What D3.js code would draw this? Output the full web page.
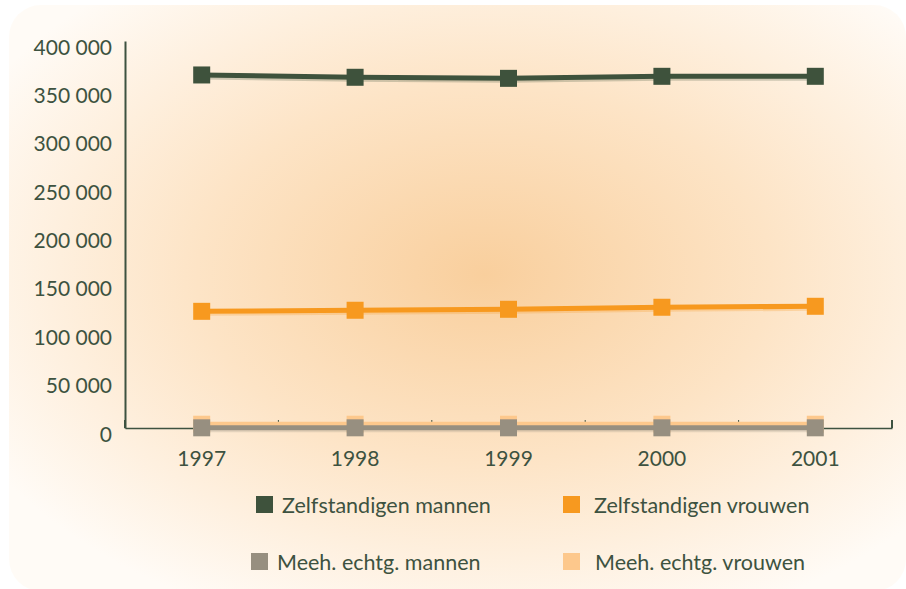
<!DOCTYPE html>
<html>
<head>
<meta charset="utf-8">
<script src="https://cdn.jsdelivr.net/npm/d3@7"></script>
<style>
  body { margin: 0; background: #ffffff; }
  svg text { font-family: Lato, "Open Sans", sans-serif; fill: #3d5240; }
</style>
</head>
<body>
<div id="chart"></div>
<script>
// values
var years = ["1997", "1998", "1999", "2000", "2001"];
var zelfMannen = [364900, 362500, 361400, 363500, 363500];
var zelfVrouwen = [120600, 121700, 122700, 124800, 125800];
var meehMannen = [200, 200, 200, 200, 200];
var meehVrouwen = [3900, 3900, 3900, 3900, 3900];
var yTicks = [0, 50000, 100000, 150000, 200000, 250000, 300000, 350000, 400000];
var seriesNames = ["Zelfstandigen mannen", "Zelfstandigen vrouwen", "Meeh. echtg. mannen", "Meeh. echtg. vrouwen"];
var seriesColors = ["#3e523c", "#f7991f", "#978f80", "#fdc88c"];

var width = 906, height = 589;

var series = [
  {name: seriesNames[0], color: seriesColors[0], values: zelfMannen},
  {name: seriesNames[1], color: seriesColors[1], values: zelfVrouwen},
  {name: seriesNames[2], color: seriesColors[2], values: meehMannen},
  {name: seriesNames[3], color: seriesColors[3], values: meehVrouwen}
];

var svg = d3.select("#chart").append("svg")
    .attr("width", width)
    .attr("height", height);

//Background glow
var grad = svg.append("defs").append("radialGradient")
    .attr("id", "glow")
    .attr("cx", "53%").attr("cy", "46%").attr("r", "64%");
grad.append("stop").attr("offset", "0%").attr("stop-color", "#f9cf9d");
grad.append("stop").attr("offset", "50%").attr("stop-color", "#fde4c6");
grad.append("stop").attr("offset", "100%").attr("stop-color", "#fffbf6");

svg.append("rect")
    .attr("x", 9).attr("y", 5)
    .attr("width", 897).attr("height", 586)
    .attr("rx", 32)
    .attr("fill", "url(#glow)");

//Scales
var x = d3.scaleBand().domain(years).range([125, 892]);
var y = d3.scaleLinear().domain([0, 400000]).range([428, 41]);

var locale = d3.formatLocale({decimal: ",", thousands: " ", grouping: [3], currency: ["", ""]});
var fmt = locale.format(",");

//Y axis
var yAxis = d3.axisLeft(y).tickValues(yTicks).tickFormat(fmt).tickSize(0).tickSizeOuter(0).tickPadding(13);
var gy = svg.append("g").attr("transform", "translate(125,0)").call(yAxis);
gy.select(".domain").attr("stroke", "#3d5240").attr("stroke-width", 2);
gy.selectAll("text")
    .attr("font-size", 21)
    .attr("dy", "0.62em");

//X axis
var xAxis = d3.axisBottom(x).tickSize(0).tickSizeOuter(0).tickPadding(22);
var gx = svg.append("g").attr("transform", "translate(0,428)").call(xAxis);
gx.select(".domain").attr("stroke", "#3d5240").attr("stroke-width", 1.5);
gx.selectAll("text").attr("font-size", 21).attr("dy", "0.75em");

//small ticks on band edges
var edges = years.map(function(d) { return x(d); }).concat([x.range()[1]]);
svg.append("g").selectAll("line")
    .data(edges)
    .enter().append("line")
    .attr("x1", function(d) { return d; })
    .attr("x2", function(d) { return d; })
    .attr("y1", 428).attr("y2", 420)
    .attr("stroke", "#3d5240")
    .attr("stroke-width", function(d, i) { return (i == 0 || i == edges.length - 1) ? 2 : 1; });

//Lines and markers
var line = d3.line()
    .x(function(d, i) { return x(years[i]) + x.bandwidth() / 2; })
    .y(function(d) { return y(d); });

var drawOrder = [series[0], series[1], series[3], series[2]];

var groups = svg.append("g").selectAll("g")
    .data(drawOrder)
    .enter().append("g");

groups.append("path")
    .attr("d", function(d) { return line(d.values); })
    .attr("transform", "translate(0,2)")
    .attr("fill", "none")
    .attr("stroke", function(d) { return d.color; })
    .attr("stroke-opacity", 0.25)
    .attr("stroke-width", 5);

groups.append("path")
    .attr("d", function(d) { return line(d.values); })
    .attr("fill", "none")
    .attr("stroke", function(d) { return d.color; })
    .attr("stroke-width", 5);

groups.selectAll("rect")
    .data(function(d) { return d.values.map(function(v, i) { return {v: v, i: i, color: d.color}; }); })
    .enter().append("rect")
    .attr("x", function(d) { return x(years[d.i]) + x.bandwidth() / 2 - 8.5; })
    .attr("y", function(d) { return y(d.v) - 8.5; })
    .attr("width", 17).attr("height", 17)
    .attr("fill", function(d) { return d.color; });

//Legend
var legX = [256, 563, 251, 563];
var legY = [496, 496, 553, 553];
var legTextX = [282, 594, 277, 595];

var leg = svg.append("g").selectAll("g")
    .data(series)
    .enter().append("g");

leg.append("rect")
    .attr("x", function(d, i) { return legX[i]; })
    .attr("y", function(d, i) { return legY[i]; })
    .attr("width", 17).attr("height", 17)
    .attr("fill", function(d) { return d.color; });

leg.append("text")
    .attr("x", function(d, i) { return legTextX[i]; })
    .attr("y", function(d, i) { return legY[i] + 17; })
    .attr("font-size", 21.5)
    .text(function(d) { return d.name; });
</script>
</body>
</html>
